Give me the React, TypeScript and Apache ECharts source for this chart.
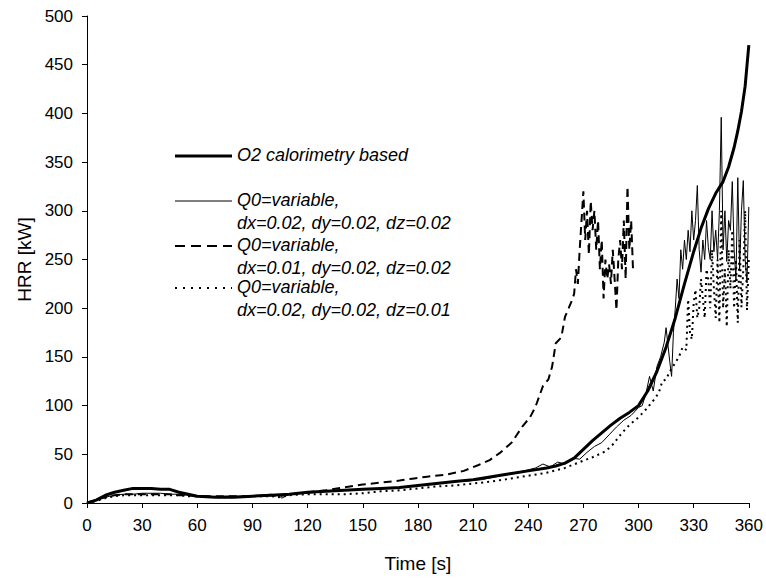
import React, { useEffect, useRef } from "react";
import * as echarts from "echarts";

const o2Time = [0, 5, 10, 15, 20, 25, 30, 35, 40, 45, 50, 55, 60, 70, 80, 90, 100, 110, 120, 130, 140, 150, 160, 170, 180, 190, 200, 210, 220, 230, 240, 250, 255, 260, 265, 270, 275, 280, 285, 290, 295, 300, 305, 310, 315, 320, 325, 330, 334, 338, 342, 346, 349, 352, 354, 356, 358, 360];
const o2Hrr = [0, 3, 8, 11, 13, 15, 15, 15, 14, 14, 11, 9, 7, 6, 6, 7, 8, 9, 11, 12, 13, 14, 15, 16, 18, 20, 22, 24, 27, 30, 33, 36, 38, 41, 46, 55, 64, 72, 80, 87, 93, 100, 115, 135, 160, 190, 225, 258, 282, 302, 318, 330, 345, 365, 382, 402, 428, 470];

const thinTime = [0, 5, 10, 15, 20, 25, 30, 35, 40, 45, 50, 55, 60, 65, 70, 75, 80, 85, 90, 95, 100, 104, 106, 108, 110, 115, 120, 125, 130, 135, 140, 145, 150, 155, 160, 165, 170, 175, 180, 185, 190, 195, 200, 205, 210, 215, 220, 225, 230, 235, 240, 244, 248, 252, 256, 260, 264, 268, 272, 276, 280, 284, 288, 292, 296, 300, 302, 304, 306, 308, 310, 312, 314, 315, 317, 318, 319, 320, 321, 322, 323, 324, 325, 326, 327, 328, 329, 330, 331, 332, 333, 334, 335, 336, 337, 338, 339, 340, 341, 342, 343, 344, 345, 346, 347, 348, 349, 350, 351, 352, 353, 354, 355, 356, 357, 358, 359, 360];
const thinHrr = [0, 3, 6, 8, 9, 9, 10, 10, 10, 9, 9, 8, 7, 7, 6, 7, 7, 7, 7, 8, 9, 8, 5, 7, 9, 10, 10, 11, 12, 12, 13, 13, 14, 14, 15, 15, 16, 17, 18, 19, 20, 21, 22, 22, 23, 24, 26, 28, 30, 32, 34, 36, 40, 37, 42, 40, 46, 45, 52, 58, 62, 70, 78, 85, 90, 98, 100, 112, 130, 115, 140, 150, 165, 180, 145, 130, 175, 200, 230, 210, 260, 240, 270, 250, 280, 258, 300, 270, 290, 326, 260, 237, 270, 250, 290, 262, 250, 300, 258, 280, 250, 300, 396, 260, 300, 248, 290, 280, 330, 260, 229, 334, 240, 300, 331, 250, 226, 304];

const dashTime = [0, 5, 10, 15, 20, 25, 30, 35, 40, 45, 50, 55, 60, 70, 80, 90, 100, 105, 110, 120, 130, 140, 150, 160, 170, 177, 185, 195, 205, 213, 219, 225, 231, 237, 241, 244, 248, 251, 253, 255, 258, 260, 262, 264, 265, 266, 267, 268, 269, 270, 271, 272, 273, 274, 275, 276, 277, 278, 279, 280, 281, 282, 283, 284, 285, 286, 287, 288, 289, 290, 291, 292, 293, 294, 295, 296, 297];
const dashHrr = [0, 3, 6, 8, 9, 9, 9, 9, 9, 9, 8, 8, 7, 7, 7, 7, 8, 7, 9, 11, 13, 16, 19, 21, 23, 25, 27, 29, 33, 39, 44, 52, 62, 79, 88, 99, 120, 127, 140, 164, 170, 191, 200, 209, 215, 240, 225, 260, 290, 320, 270, 300, 255, 310, 280, 300, 260, 290, 240, 270, 210, 250, 230, 245, 225, 260, 230, 198, 250, 270, 240, 290, 230, 325, 260, 290, 240];

const dotTime = [0, 5, 10, 15, 20, 25, 30, 35, 40, 45, 50, 55, 60, 70, 80, 90, 100, 105, 110, 120, 130, 140, 150, 160, 170, 180, 190, 200, 210, 220, 230, 240, 250, 260, 268, 275, 282, 286, 291, 295, 300, 304, 308, 311, 313, 315, 317, 320, 322, 324, 326, 327, 328, 329, 330, 331, 332, 333, 334, 335, 336, 337, 338, 339, 340, 341, 342, 343, 344, 345, 346, 347, 348, 349, 350, 351, 352, 353, 354, 355, 356, 357, 358, 359, 360];
const dotHrr = [0, 2, 5, 7, 8, 8, 8, 8, 8, 8, 8, 7, 7, 6, 6, 7, 7, 6, 8, 9, 9, 9, 10, 12, 13, 15, 17, 18, 20, 22, 25, 28, 31, 36, 42, 47, 53, 60, 72, 80, 88, 96, 105, 113, 125, 127, 135, 144, 150, 160, 157, 209, 175, 168, 205, 219, 190, 200, 230, 210, 190, 240, 229, 200, 260, 220, 190, 250, 185, 300, 200, 240, 181, 260, 220, 280, 200, 250, 185, 270, 201, 240, 300, 198, 250];

const legendLabels = [
  ["O2 calorimetry based"],
  ["Q0=variable,", "dx=0.02, dy=0.02, dz=0.02"],
  ["Q0=variable,", "dx=0.01, dy=0.02, dz=0.02"],
  ["Q0=variable,", "dx=0.02, dy=0.02, dz=0.01"],
];

const zip = (t: number[], v: number[]) => t.map((x, i) => [x, v[i]]);

const FONT = "Liberation Sans, Arial, sans-serif";

export default function App() {
  const ref = useRef<HTMLDivElement>(null);
  useEffect(() => {
    if (!ref.current) return;
    const chart = echarts.init(ref.current, undefined, { renderer: "svg" });
    const txt = (text: string, x: number, y: number) => ({
      type: "text",
      x,
      y,
      style: {
        text,
        fill: "#000",
        fontSize: 18,
        fontStyle: "italic",
        fontFamily: FONT,
        verticalAlign: "middle",
        align: "left",
      },
    });
    const seg = (x1: number, x2: number, y: number, w: number, dash?: number[]) => ({
      type: "line",
      shape: { x1, y1: y, x2, y2: y },
      style: { stroke: "#000", lineWidth: w, lineDash: dash },
    });
    chart.setOption({
      animation: false,
      backgroundColor: "#fff",
      grid: { left: 87, top: 16, right: 16, bottom: 74, containLabel: false },
      xAxis: {
        type: "value",
        min: 0,
        max: 360,
        interval: 30,
        name: "Time [s]",
        nameLocation: "middle",
        nameGap: 51,
        nameTextStyle: { color: "#000", fontSize: 19, fontFamily: FONT },
        axisLine: { show: true, lineStyle: { color: "#000", width: 1 } },
        axisTick: { show: true, length: 5, lineStyle: { color: "#000" } },
        axisLabel: { color: "#000", fontSize: 17, fontFamily: FONT, margin: 14 },
        splitLine: { show: false },
      },
      yAxis: {
        type: "value",
        min: 0,
        max: 500,
        interval: 50,
        name: "HRR [kW]",
        nameLocation: "middle",
        nameGap: 52,
        nameTextStyle: { color: "#000", fontSize: 19, fontFamily: FONT },
        axisLine: { show: true, lineStyle: { color: "#000", width: 1 } },
        axisTick: { show: true, length: 5, lineStyle: { color: "#000" } },
        axisLabel: { color: "#000", fontSize: 17, fontFamily: FONT, margin: 14 },
        splitLine: { show: false },
      },
      series: [
        {
          type: "line",
          data: zip(dotTime, dotHrr),
          showSymbol: false,
          symbol: "none",
          lineStyle: { color: "#000", width: 2, type: [2, 4] },
        },
        {
          type: "line",
          data: zip(dashTime, dashHrr),
          showSymbol: false,
          symbol: "none",
          lineStyle: { color: "#000", width: 2, type: [8, 5] },
        },
        {
          type: "line",
          data: zip(thinTime, thinHrr),
          showSymbol: false,
          symbol: "none",
          lineStyle: { color: "#000", width: 1 },
        },
        {
          type: "line",
          data: zip(o2Time, o2Hrr),
          showSymbol: false,
          symbol: "none",
          lineStyle: { color: "#000", width: 3 },
        },
      ],
      graphic: [
        seg(175, 232, 156, 3),
        txt(legendLabels[0][0], 237, 155),
        seg(175, 232, 201, 1),
        txt(legendLabels[1][0], 237, 200),
        txt(legendLabels[1][1], 237, 223),
        seg(175, 232, 246, 2, [10, 6]),
        txt(legendLabels[2][0], 237, 245),
        txt(legendLabels[2][1], 237, 268),
        seg(175, 232, 288, 2, [2, 6]),
        txt(legendLabels[3][0], 237, 287),
        txt(legendLabels[3][1], 237, 310),
      ],
    });
    return () => chart.dispose();
  }, []);
  return (
    <div
      ref={ref}
      style={{ position: "absolute", left: 0, top: 0, width: 766, height: 578 }}
    />
  );
}
